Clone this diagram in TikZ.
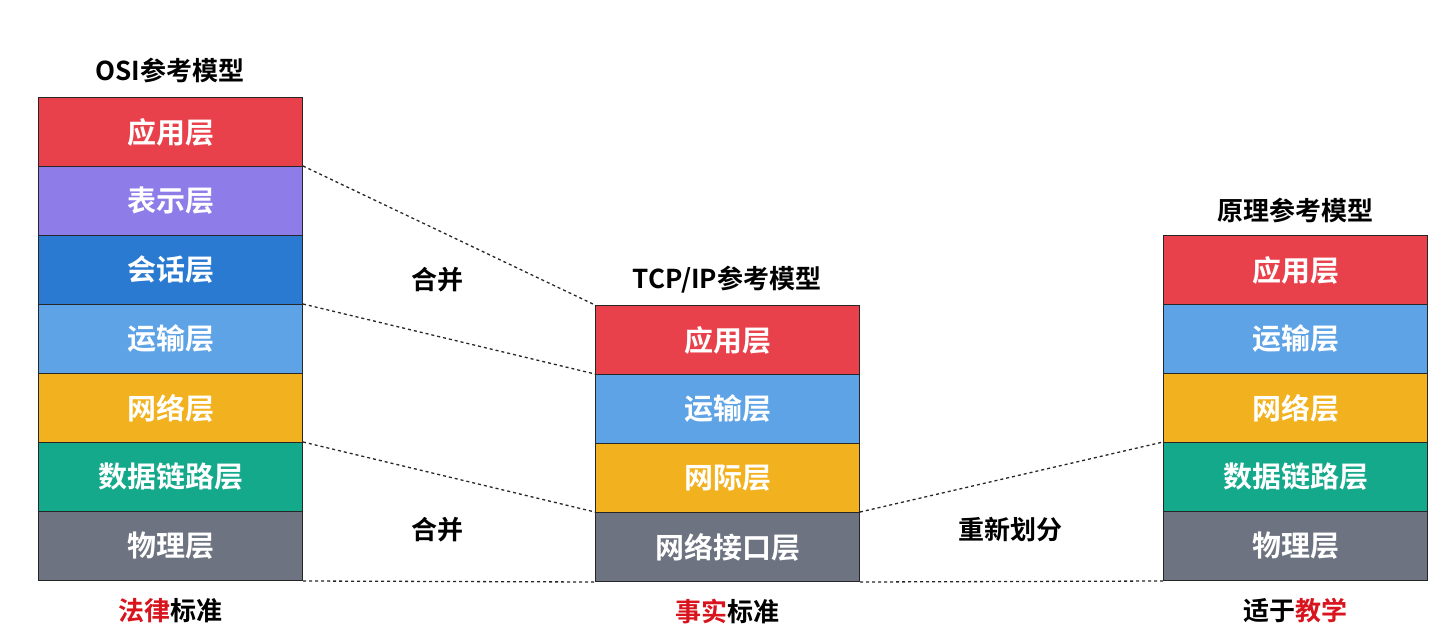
\documentclass[tikz,border=0pt]{standalone}
\usepackage{fontspec}
\setmainfont{Noto Sans CJK SC Bold}
\definecolor{cred}{HTML}{E8414B}
\definecolor{cpur}{HTML}{8E7CE8}
\definecolor{cdblue}{HTML}{2A7AD2}
\definecolor{clblue}{HTML}{5FA3E7}
\definecolor{camber}{HTML}{F2B11E}
\definecolor{cteal}{HTML}{14A98B}
\definecolor{cgray}{HTML}{6E7381}
\definecolor{tred}{HTML}{D8141E}
\begin{document}
\begin{tikzpicture}[x=1pt,y=-1pt,
  layer/.style={draw=black!85,line width=1pt,minimum width=264pt,minimum height=69pt,inner sep=0pt,text=white,font=\fontsize{29}{32}\selectfont,anchor=north west},
  ttl/.style={font=\fontsize{26}{30}\selectfont,text=black},
  conn/.style={dashed,line width=1.3pt,black!85}]
\useasboundingbox (0,0) rectangle (1442,632);
\foreach \i/\c/\t in {0/cred/应用层,1/cpur/表示层,2/cdblue/会话层,3/clblue/运输层,4/camber/网络层,5/cteal/数据链路层,6/cgray/物理层}
  \node[layer,fill=\c] (o\i) at (38,97+69*\i) {\t};
\foreach \i/\c/\t in {0/cred/应用层,1/clblue/运输层,2/camber/网际层,3/cgray/网络接口层}
  \node[layer,fill=\c] (t\i) at (595,305+69*\i) {\t};
\foreach \i/\c/\t in {0/cred/应用层,1/clblue/运输层,2/camber/网络层,3/cteal/数据链路层,4/cgray/物理层}
  \node[layer,fill=\c] (p\i) at (1163,235+69*\i) {\t};
\node[ttl] (ot) at (170,70) {OSI参考模型};
\node[ttl] (tt) at (727,280) {TCP/IP参考模型};
\node[ttl] (pt) at (1295,210) {原理参考模型};
\node[ttl] (m1) at (437,280) {合并};
\node[ttl] (m2) at (437,530) {合并};
\node[ttl] (m3) at (1010,530) {重新划分};
\node[ttl] (b1) at (170,611) {\textcolor{tred}{法律}标准};
\node[ttl] (b2) at (727,611) {\textcolor{tred}{事实}标准};
\node[ttl] (b3) at (1295,611) {适于\textcolor{tred}{教学}};
\draw[conn] (o1.north east) -- (t0.north west);
\draw[conn] (o3.north east) -- (t1.north west);
\draw[conn] (o5.north east) -- (t3.north west);
\draw[conn] (o6.south east) -- (t3.south west);
\draw[conn] (t3.north east) -- (p3.north west);
\draw[conn] (t3.south east) -- (p4.south west);
\end{tikzpicture}
\end{document}
